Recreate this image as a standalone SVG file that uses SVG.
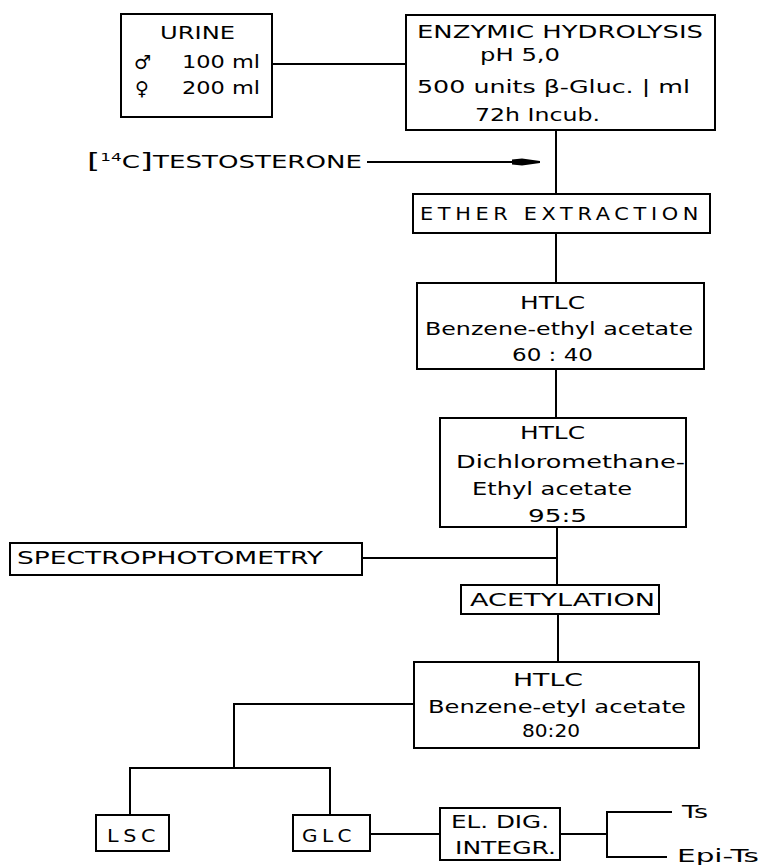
<svg xmlns="http://www.w3.org/2000/svg" width="761" height="865" viewBox="0 0 761 865">
<style>
.box{fill:#fff;stroke:#000;stroke-width:2}
.ln{fill:none;stroke:#000;stroke-width:2}
text{font-family:"DejaVu Sans","Liberation Sans",sans-serif;font-size:17px;fill:#000}
.sym{font-size:19px}
.sp{font-size:18px;letter-spacing:4px}
</style>
<defs>
<marker id="dart" markerUnits="userSpaceOnUse" markerWidth="30" markerHeight="10" refX="28" refY="5" orient="auto">
<path d="M0,2.5 L10,1.5 L28,4 L28,6 L10,8.5 L0,7.5 z" fill="#000"/>
</marker>
</defs>
<rect width="761" height="865" fill="#fff"/>
<g id="connectors">
<path class="ln" d="M272,64 H406"/>
<path class="ln" d="M556,130 V194"/>
<path class="ln" d="M367,162 H540" marker-end="url(#dart)"/>
<path class="ln" d="M556,233 V283"/>
<path class="ln" d="M556,369 V418"/>
<path class="ln" d="M557,527 V585"/>
<path class="ln" d="M362,558 H557"/>
<path class="ln" d="M558,614 V662"/>
<path class="ln" d="M414,704 H234 V768"/>
<path class="ln" d="M130,815 V768 H330 V815"/>
<path class="ln" d="M370,834 H440"/>
<path class="ln" d="M560,834 H607"/>
<path class="ln" d="M672,812 H607 V857 H667"/>
</g>
<g id="urine">
<rect class="box" x="121" y="14" width="151" height="103"/>
<text x="160" y="39" textLength="75" lengthAdjust="spacingAndGlyphs">URINE</text>
<text class="sym" x="134" y="69">♂</text>
<text x="182" y="68" textLength="78" lengthAdjust="spacingAndGlyphs">100 ml</text>
<text class="sym" x="135" y="95">♀</text>
<text x="182" y="94" textLength="78" lengthAdjust="spacingAndGlyphs">200 ml</text>
</g>
<g id="enzymic">
<rect class="box" x="406" y="15" width="309" height="115"/>
<text x="417" y="38" textLength="286" lengthAdjust="spacingAndGlyphs">ENZYMIC  HYDROLYSIS</text>
<text x="480" y="61" textLength="80" lengthAdjust="spacingAndGlyphs">pH 5,0</text>
<text x="417" y="93" textLength="273" lengthAdjust="spacingAndGlyphs">500 units β-Gluc. | ml</text>
<text x="475" y="121" textLength="125" lengthAdjust="spacingAndGlyphs">72h Incub.</text>
</g>
<g id="testosterone">
<text x="87" y="168" textLength="275" lengthAdjust="spacingAndGlyphs"><tspan font-size="22">[</tspan><tspan font-size="11" dy="-7">14</tspan><tspan dy="7">C</tspan><tspan font-size="22">]</tspan>TESTOSTERONE</text>
</g>
<g id="ether">
<rect class="box" x="413" y="194" width="297" height="39"/>
<text class="sp" x="420" y="220" textLength="283" lengthAdjust="spacingAndGlyphs">ETHER EXTRACTION</text>
</g>
<g id="htlc1">
<rect class="box" x="417" y="283" width="287" height="86"/>
<text x="520" y="309" textLength="65" lengthAdjust="spacingAndGlyphs">HTLC</text>
<text x="425" y="335" textLength="268" lengthAdjust="spacingAndGlyphs">Benzene-ethyl acetate</text>
<text x="512" y="361" textLength="81" lengthAdjust="spacingAndGlyphs">60 : 40</text>
</g>
<g id="htlc2">
<rect class="box" x="440" y="418" width="246" height="109"/>
<text x="520" y="439" textLength="65" lengthAdjust="spacingAndGlyphs">HTLC</text>
<text x="456" y="468" textLength="229" lengthAdjust="spacingAndGlyphs">Dichloromethane-</text>
<text x="472" y="495" textLength="160" lengthAdjust="spacingAndGlyphs">Ethyl acetate</text>
<text x="528" y="522" textLength="59" lengthAdjust="spacingAndGlyphs">95:5</text>
</g>
<g id="spectro">
<rect class="box" x="10" y="543" width="352" height="32"/>
<text x="17" y="564" textLength="306" lengthAdjust="spacingAndGlyphs">SPECTROPHOTOMETRY</text>
</g>
<g id="acetyl">
<rect class="box" x="461" y="585" width="198" height="29"/>
<text x="470" y="606" textLength="185" lengthAdjust="spacingAndGlyphs">ACETYLATION</text>
</g>
<g id="htlc3">
<rect class="box" x="414" y="662" width="285" height="86"/>
<text x="513" y="686" textLength="70" lengthAdjust="spacingAndGlyphs">HTLC</text>
<text x="428" y="713" textLength="258" lengthAdjust="spacingAndGlyphs">Benzene-etyl acetate</text>
<text x="522" y="737" font-size="18" textLength="58" lengthAdjust="spacingAndGlyphs">80:20</text>
</g>
<g id="lsc">
<rect class="box" x="96" y="815" width="73" height="36"/>
<text class="sp" x="107" y="842" textLength="53" lengthAdjust="spacingAndGlyphs">LSC</text>
</g>
<g id="glc">
<rect class="box" x="293" y="815" width="77" height="36"/>
<text class="sp" x="302" y="842" textLength="54" lengthAdjust="spacingAndGlyphs">GLC</text>
</g>
<g id="eldig">
<rect class="box" x="440" y="808" width="120" height="52"/>
<text x="451" y="828" textLength="98" lengthAdjust="spacingAndGlyphs">EL. DIG.</text>
<text x="455" y="854" textLength="101" lengthAdjust="spacingAndGlyphs">INTEGR.</text>
</g>
<g id="ts">
<text x="682" y="818" textLength="26" lengthAdjust="spacingAndGlyphs">Ts</text>
</g>
<g id="epits">
<text x="677" y="862" textLength="82" lengthAdjust="spacingAndGlyphs">Epi-Ts</text>
</g>
</svg>
